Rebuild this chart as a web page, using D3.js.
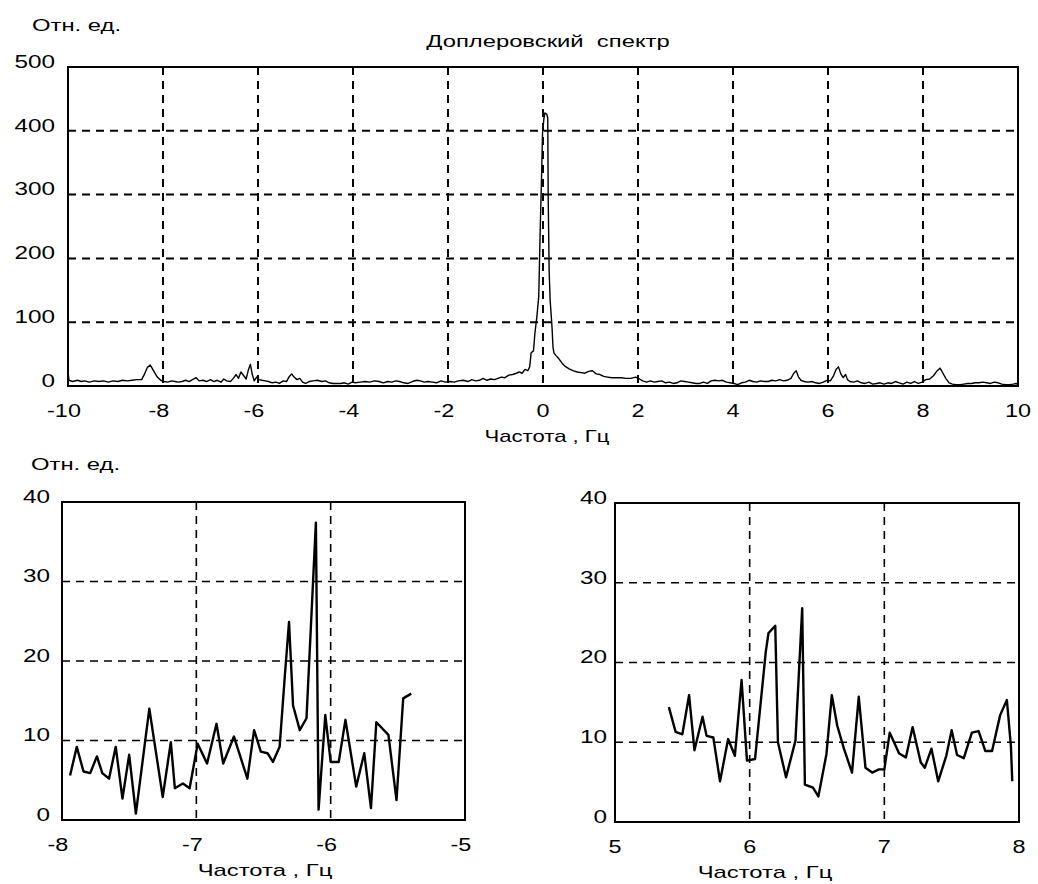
<!DOCTYPE html>
<html lang="ru">
<head>
<meta charset="UTF-8">
<title>Доплеровский спектр</title>
<script src="https://cdn.jsdelivr.net/npm/d3@7"></script>
<style>
  body { margin: 0; background: #fff; }
  svg { display: block; font-family: "Liberation Sans", Arial, sans-serif; }
  .grid line { stroke: #000; stroke-dasharray: 8,6; }
  .tick-label { font-size: 18px; fill: #000; }
  .caption { font-size: 17px; fill: #000; }
</style>
</head>
<body>
<div id="chart"></div>
<script>
// full spectrum, -10..10 Hz
const topFreq = [-10.00,-9.98,-9.90,-9.80,-9.72,-9.65,-9.55,-9.45,-9.35,-9.25,-9.15,-9.05,-8.95,-8.85,-8.75,-8.65,-8.55,-8.45,-8.40,-8.33,-8.27,-8.20,-8.12,-8.05,-7.98,-7.90,-7.82,-7.75,-7.68,-7.60,-7.52,-7.45,-7.38,-7.30,-7.24,-7.16,-7.08,-7.00,-6.93,-6.86,-6.78,-6.72,-6.66,-6.58,-6.52,-6.46,-6.41,-6.36,-6.30,-6.25,-6.20,-6.16,-6.12,-6.08,-6.03,-5.98,-5.92,-5.85,-5.78,-5.70,-5.62,-5.55,-5.47,-5.40,-5.34,-5.29,-5.24,-5.18,-5.12,-5.06,-5.00,-4.92,-4.84,-4.75,-4.66,-4.58,-4.50,-4.42,-4.34,-4.26,-4.18,-4.10,-4.02,-3.95,-3.85,-3.75,-3.65,-3.55,-3.45,-3.36,-3.27,-3.18,-3.10,-3.02,-2.93,-2.84,-2.75,-2.66,-2.58,-2.50,-2.42,-2.33,-2.24,-2.15,-2.05,-1.96,-1.87,-1.78,-1.68,-1.58,-1.50,-1.42,-1.34,-1.26,-1.18,-1.10,-1.02,-0.95,-0.88,-0.80,-0.72,-0.64,-0.56,-0.50,-0.44,-0.38,-0.32,-0.28,-0.25,-0.20,-0.17,-0.13,-0.09,-0.06,-0.03,-0.01,0.02,0.04,0.08,0.10,0.11,0.13,0.15,0.19,0.21,0.23,0.27,0.32,0.40,0.46,0.55,0.63,0.72,0.80,0.88,0.96,1.04,1.12,1.20,1.28,1.36,1.45,1.55,1.65,1.75,1.85,1.95,2.03,2.10,2.18,2.26,2.34,2.42,2.50,2.58,2.66,2.74,2.82,2.90,2.98,3.06,3.14,3.22,3.30,3.38,3.46,3.54,3.62,3.70,3.78,3.86,3.94,4.02,4.10,4.18,4.26,4.34,4.42,4.50,4.58,4.66,4.74,4.82,4.90,4.98,5.06,5.14,5.22,5.28,5.33,5.38,5.43,5.50,5.58,5.66,5.74,5.82,5.90,5.98,6.05,6.11,6.17,6.22,6.27,6.32,6.37,6.41,6.46,6.54,6.62,6.70,6.78,6.86,6.94,7.02,7.10,7.18,7.26,7.34,7.42,7.50,7.58,7.66,7.74,7.82,7.90,7.98,8.06,8.14,8.22,8.30,8.36,8.42,8.48,8.55,8.62,8.70,8.78,8.86,8.94,9.02,9.10,9.18,9.26,9.34,9.42,9.50,9.58,9.66,9.74,9.82,9.90,9.96,10.00];
const topValue = [24,9,7,9,7,8,6,8,7,8,6,8,7,9,8,9,10,10,17,29,33,24,14,9,7,6,8,7,6,7,9,7,10,13,8,9,7,10,7,9,6,11,8,7,12,18,12,22,16,11,26,34,18,8,14,10,9,8,7,5,6,4,8,7,15,19,14,10,12,6,4,7,8,9,7,8,5,4,4,4,5,3,6,5,6,7,6,8,7,5,7,6,8,7,5,4,7,9,8,6,7,6,5,8,6,7,6,8,9,7,10,8,9,12,9,11,10,12,14,13,17,18,20,22,20,26,24,30,52,55,83,108,140,240,330,396,420,428,426,420,290,180,135,92,61,52,48,44,36,31,27,24,22,21,20,23,24,19,18,15,14,13,13,13,12,12,14,11,8,6,8,6,7,8,5,6,4,5,8,7,6,5,4,4,6,4,8,9,8,9,6,5,4,2,5,6,9,7,6,8,7,7,9,8,10,8,9,12,20,24,14,9,7,6,7,5,4,6,9,8,15,26,30,19,13,18,10,7,6,8,5,4,6,3,4,5,3,5,4,7,5,3,6,4,7,4,6,10,11,16,24,28,20,12,5,3,2,2,3,4,4,5,5,6,5,4,6,5,3,2,2,3,4,2];

// zoom on the -8..-5 Hz region
const leftFreq = [-7.94,-7.89,-7.84,-7.79,-7.74,-7.70,-7.65,-7.60,-7.55,-7.50,-7.45,-7.35,-7.25,-7.19,-7.16,-7.10,-7.05,-6.99,-6.92,-6.85,-6.80,-6.72,-6.62,-6.57,-6.52,-6.47,-6.43,-6.38,-6.34,-6.31,-6.28,-6.23,-6.18,-6.11,-6.09,-6.04,-6.00,-5.94,-5.89,-5.81,-5.75,-5.70,-5.66,-5.57,-5.51,-5.46,-5.40];
const leftValue = [5.6,9.2,6.1,5.9,8.0,5.9,5.2,9.2,2.7,8.2,0.8,14.0,2.9,9.8,4.0,4.6,4.0,9.6,7.1,12.1,7.1,10.5,5.2,11.3,8.6,8.4,7.3,9.2,18.4,24.9,14.4,11.3,12.8,37.4,1.3,13.2,7.3,7.3,12.6,4.2,8.4,1.5,12.3,10.7,2.5,15.3,15.9];

// zoom on the 5..8 Hz region
const rightFreq = [5.40,5.45,5.50,5.55,5.59,5.65,5.68,5.73,5.78,5.84,5.89,5.94,5.98,6.04,6.12,6.14,6.19,6.21,6.27,6.34,6.39,6.41,6.47,6.51,6.57,6.61,6.65,6.70,6.76,6.81,6.86,6.91,6.96,7.00,7.04,7.11,7.16,7.21,7.27,7.30,7.35,7.40,7.46,7.50,7.54,7.59,7.65,7.70,7.75,7.80,7.86,7.91,7.94,7.95];
const rightValue = [14.4,11.3,11.0,15.9,9.0,13.2,10.8,10.6,5.1,10.4,8.3,17.8,7.7,7.9,21.4,23.7,24.6,10.0,5.6,10.2,26.8,4.7,4.3,3.2,8.5,15.9,12.1,9.2,6.2,15.7,6.8,6.2,6.6,6.6,11.2,8.6,8.1,11.9,7.5,6.8,9.2,5.1,8.3,11.5,8.4,8.0,11.2,11.4,8.9,8.9,13.4,15.3,9.5,5.1];

const topXTicks = [-10,-8,-6,-4,-2,0,2,4,6,8,10];
const topYTicks = [0,100,200,300,400,500];
const leftXTicks = [-8,-7,-6,-5];
const rightXTicks = [5,6,7,8];
const smallYTicks = [0,10,20,30,40];

const svg = d3.select("#chart").append("svg")
  .attr("width", 1038)
  .attr("height", 884);

// the scanned lettering is wider than Arial: stretch glyphs horizontally
function widen(sel, k) {
  sel.each(function () {
    const w = this.getComputedTextLength();
    d3.select(this)
      .attr("textLength", w * k)
      .attr("lengthAdjust", "spacingAndGlyphs");
  });
}

// draws one framed panel with dashed grid, tick labels and a trace
function panel(opt) {
  const x = d3.scaleLinear().domain(opt.xDomain).range([opt.left, opt.right]);
  const y = d3.scaleLinear().domain(opt.yDomain).range([opt.bottom, opt.top]);
  const g = svg.append("g");

  const grid = g.append("g").attr("class", "grid");
  grid.selectAll(".gx")
    .data(opt.xTicks.filter(d => d > opt.xDomain[0] && d < opt.xDomain[1]))
    .join("line")
    .attr("x1", d => x(d)).attr("x2", d => x(d))
    .attr("y1", opt.top).attr("y2", opt.bottom)
    .attr("stroke-width", opt.gridWidth);
  grid.selectAll(".gy")
    .data(opt.yTicks.filter(d => d > opt.yDomain[0] && d < opt.yDomain[1]))
    .join("line")
    .attr("x1", opt.left).attr("x2", opt.right)
    .attr("y1", d => y(d)).attr("y2", d => y(d))
    .attr("stroke-width", opt.gridWidth);

  const pts = opt.xs.map((v, i) => [v, opt.ys[i]]);
  g.append("path")
    .datum(pts)
    .attr("fill", "none")
    .attr("stroke", "#000")
    .attr("stroke-width", opt.lineWidth)
    .attr("stroke-linejoin", "round")
    .attr("d", d3.line().x(d => x(d[0])).y(d => y(d[1])));

  g.append("rect")
    .attr("x", opt.left).attr("y", opt.top)
    .attr("width", opt.right - opt.left).attr("height", opt.bottom - opt.top)
    .attr("fill", "none").attr("stroke", "#000").attr("stroke-width", 2);

  g.selectAll(".yl")
    .data(opt.yTicks)
    .join("text")
    .attr("class", "tick-label")
    .attr("x", opt.left - opt.yGap)
    .attr("y", d => y(d) - 4)
    .attr("text-anchor", "end")
    .attr("dominant-baseline", "middle")
    .text(d => d)
    .call(widen, 1.35);
  g.selectAll(".xl")
    .data(opt.xTicks)
    .join("text")
    .attr("class", "tick-label")
    .attr("x", d => x(d) + (d < 0 ? -4 : 0))
    .attr("y", opt.bottom + 31)
    .attr("text-anchor", "middle")
    .text(d => String(d))
    .call(widen, 1.3);

  g.append("text")
    .attr("class", "caption")
    .attr("x", opt.xTitleX)
    .attr("y", opt.bottom + 56)
    .attr("text-anchor", "middle")
    .text("Частота , Гц")
    .call(widen, opt.titleK);
}

panel({
  xs: topFreq, ys: topValue,
  xDomain: [-10, 10], yDomain: [0, 500],
  xTicks: topXTicks, yTicks: topYTicks,
  left: 68, right: 1018, top: 67, bottom: 386,
  gridWidth: 2, lineWidth: 1.4, xTitleX: 547, yGap: 13, titleK: 1.3
});

panel({
  xs: leftFreq, ys: leftValue,
  xDomain: [-8, -5], yDomain: [0, 40],
  xTicks: leftXTicks, yTicks: smallYTicks,
  left: 62, right: 465, top: 502, bottom: 820,
  gridWidth: 1.6, lineWidth: 2.4, xTitleX: 265, yGap: 12, titleK: 1.4
});

panel({
  xs: rightFreq, ys: rightValue,
  xDomain: [5, 8], yDomain: [0, 40],
  xTicks: rightXTicks, yTicks: smallYTicks,
  left: 615, right: 1019, top: 503, bottom: 822,
  gridWidth: 1.6, lineWidth: 2.4, xTitleX: 765, yGap: 8, titleK: 1.4
});

svg.append("text").attr("class", "caption")
  .attr("x", 32).attr("y", 31)
  .text("Отн. ед.")
  .call(widen, 1.4);
svg.append("text").attr("class", "caption")
  .attr("x", 548).attr("y", 47).attr("text-anchor", "middle")
  .attr("xml:space", "preserve")
  .text("Доплеровский  спектр")
  .call(widen, 1.4);
svg.append("text").attr("class", "caption")
  .attr("x", 31).attr("y", 470)
  .text("Отн. ед.")
  .call(widen, 1.4);
</script>
</body>
</html>
